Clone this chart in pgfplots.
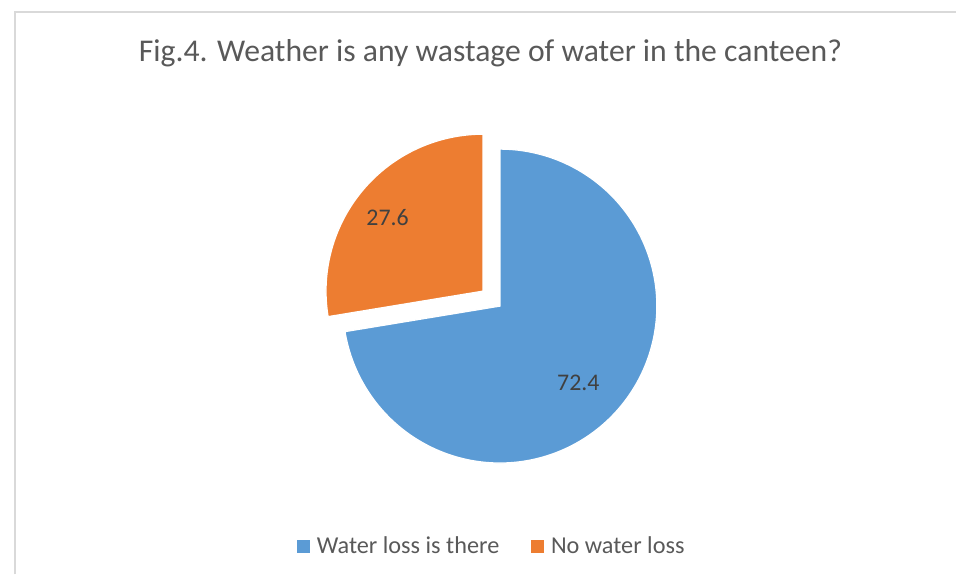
\documentclass[border=0pt]{standalone}
\usepackage{pgfplots}
\usepackage{pgfplotstable}
\pgfplotsset{compat=1.18}
\usepackage{fontspec}
\setmainfont{Carlito}
\definecolor{pieblue}{HTML}{5B9BD5}
\definecolor{pieorange}{HTML}{ED7D31}
\definecolor{txtgray}{HTML}{595959}
\definecolor{lblgray}{HTML}{404040}
\definecolor{framegray}{HTML}{D9D9D9}
\pgfplotstableread{
label value
{Water loss is there} 72.4
{No water loss} 27.6
}\datatable
\begin{document}
\pgfplotstablegetelem{0}{value}\of\datatable
\let\vA\pgfplotsretval
\pgfplotstablegetelem{1}{value}\of\datatable
\let\vB\pgfplotsretval
\pgfmathsetmacro\aEnd{90-3.6*\vA}
\pgfmathsetmacro\bEnd{90+3.6*\vB}
\begin{tikzpicture}
\begin{axis}[
  scale only axis, width=717pt, height=433.5pt,
  xmin=0, xmax=956, ymin=0, ymax=578,
  hide axis, clip=false,
  legend columns=2,
  legend style={draw=none, fill=none, at={(axis description cs:0.511,0.0484)}, anchor=center,
    font=\fontsize{18.3}{20}\selectfont\color{txtgray},
    /tikz/every even column/.append style={column sep=21pt}},
  legend image code/.code={\fill[#1] (0pt,-5.25pt) rectangle (10.5pt,5.25pt); \path (13pt,0pt);},
]
\draw[framegray, line width=1pt] (axis cs:9,0) -- (axis cs:9,566) -- (axis cs:956,566);
\addplot[fill=pieblue, draw=white, line width=1pt, domain=\aEnd:90, samples=200, variable=\t]
  ({497+158*cos(t)},{270+158*sin(t)}) -- (axis cs:497,270) -- cycle;
\addlegendentry{Water loss is there}
\addplot[fill=pieorange, draw=white, line width=1pt, domain=90:\bEnd, samples=100, variable=\t]
  ({480+158*cos(t)},{285+158*sin(t)}) -- (axis cs:480,285) -- cycle;
\addlegendentry{No water loss}
\node[anchor=base, font=\fontsize{23.9}{28}\selectfont, text=txtgray] at (axis cs:487.5,516) {Fig.4. Weather is any wastage of water in the canteen?};
\node[anchor=base, font=\fontsize{18}{21}\selectfont, text=lblgray] at (axis cs:384,351) {\vB};
\node[anchor=base, font=\fontsize{18}{21}\selectfont, text=lblgray] at (axis cs:576,185) {\vA};
\end{axis}
\pgfresetboundingbox
\path[use as bounding box] (current axis.south west) rectangle (current axis.north east);
\end{tikzpicture}
\end{document}
